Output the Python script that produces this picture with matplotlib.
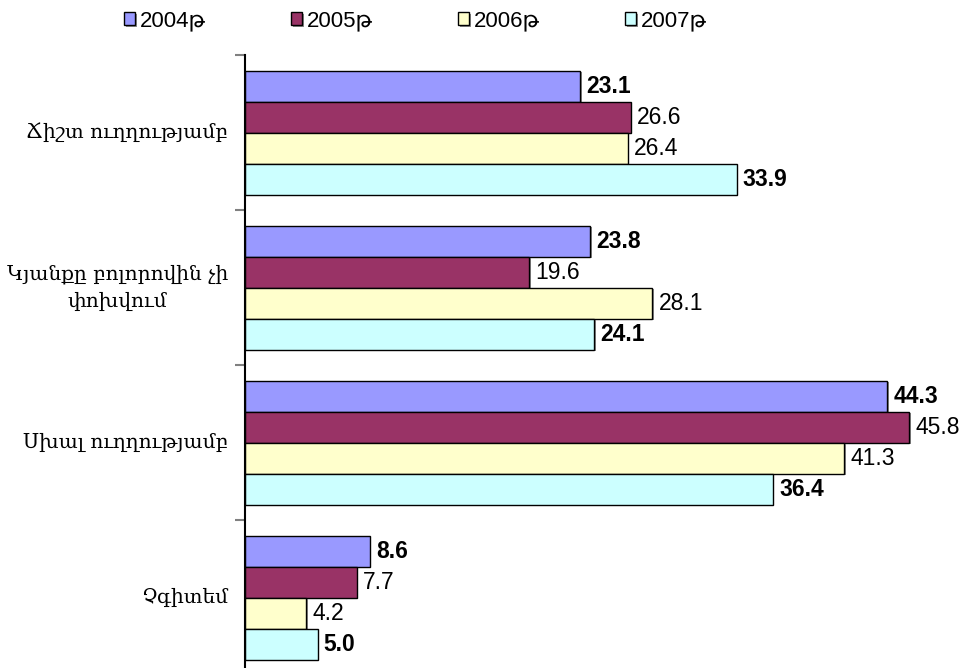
import matplotlib
matplotlib.use("Agg")
import matplotlib.pyplot as plt
import matplotlib.patheffects as pe
import numpy as np

categories = ["Ճիշտ ուղղությամբ", "Կյանքը բոլորովին չի\nփոխվում", "Սխալ ուղղությամբ", "Չգիտեմ"]
series_names = ["2004թ", "2005թ", "2006թ", "2007թ"]
v2004 = [23.1, 23.8, 44.3, 8.6]
v2005 = [26.6, 19.6, 45.8, 7.7]
v2006 = [26.4, 28.1, 41.3, 4.2]
v2007 = [33.9, 24.1, 36.4, 5.0]
values = [v2004, v2005, v2006, v2007]
colors = ["#9999FF", "#993366", "#FFFFCC", "#CCFFFF"]
bold = [True, False, False, True]

W, H = 968, 668
fig = plt.figure(figsize=(W / 100, H / 100), dpi=100)
ax_left, ax_top, ax_bottom = 245, 55, 675
xmax = 50
px_per_unit = 14.5
ax_w = xmax * px_per_unit
ax = fig.add_axes([ax_left / W, 1 - ax_bottom / H, ax_w / W, (ax_bottom - ax_top) / H])

num_font = ["Liberation Sans", "DejaVu Sans"]
bh = 0.2
offsets = [-0.3, -0.1, 0.1, 0.3]
y = np.arange(len(categories))
handles = []
for k in range(4):
    bars = ax.barh(y + offsets[k], values[k], height=bh, color=colors[k], edgecolor="black",
                   linewidth=1.0, label=series_names[k],
                   path_effects=[pe.withSimplePatchShadow(offset=(1.2, -1.2), shadow_rgbFace="#808080", alpha=0.9)])
    handles.append(bars)
    for yi, v in zip(y + offsets[k], values[k]):
        ax.annotate(f"{v:.1f}", (v, yi), xytext=(4.5, 0), textcoords="offset points",
                    va="center", ha="left", fontsize=16.5, family=num_font,
                    fontweight="bold" if bold[k] else "normal", color="black")

ax.set_xlim(0, xmax)
ax.set_ylim(3.5, -0.5)
for s in ["top", "right", "bottom"]:
    ax.spines[s].set_visible(False)
ax.spines["left"].set_linewidth(1.5)
ax.set_xticks([])
ax.set_yticks(y)
ax.set_yticklabels([])
ax.tick_params(axis="y", which="major", length=0)
ax.set_yticks(np.arange(-0.5, 4.0, 1.0), minor=True)
ax.tick_params(axis="y", which="minor", length=7, width=1.5, color="#808080")

label_x = -(ax_left - 228) / ax_w
for yi, cat in zip(y, categories):
    ax.text(label_x, yi, cat, transform=ax.get_yaxis_transform(), ha="right", va="center",
            multialignment="center", family=["DejaVu Serif"], fontsize=14.5, linespacing=1.55)

leg = fig.legend(handles=handles, labels=series_names, ncol=4, loc="center left",
                 bbox_to_anchor=(124 / W, 1 - 21 / H), frameon=False,
                 prop={"family": num_font, "size": 16},
                 handlelength=0.5, handleheight=0.55, handletextpad=0.2, columnspacing=3.85,
                 borderaxespad=0, borderpad=0)

fig.savefig("out.png", dpi=100)
